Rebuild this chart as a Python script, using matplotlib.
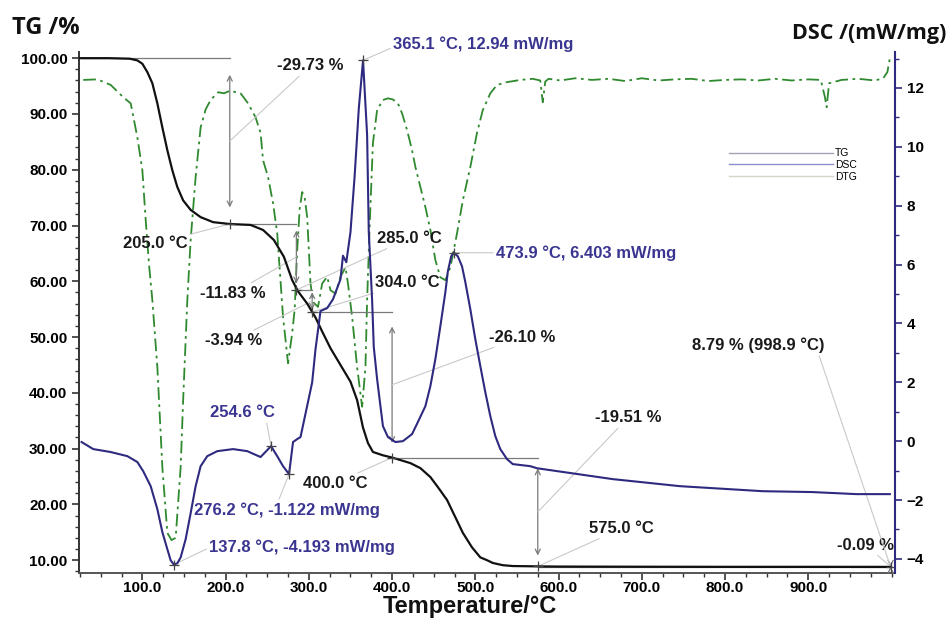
import matplotlib
matplotlib.use("Agg")
import matplotlib.pyplot as plt
import numpy as np
from matplotlib.lines import Line2D
from matplotlib.ticker import FormatStrFormatter, MultipleLocator

plt.rcParams["font.family"] = ["Liberation Sans", "DejaVu Sans"]

# TG curve (mass %, left axis)
tg_temp = [25, 60, 85, 94, 100, 106, 112, 118, 124, 130,
           136, 142, 149, 158, 170, 185, 205, 230, 245, 258,
           270, 280, 287, 298, 304, 308, 316, 326, 338, 350,
           358, 365, 371, 377, 389, 400, 422, 434, 446, 455,
           466, 476, 485, 496, 506, 514, 521, 533, 545, 575,
           600, 700, 800, 900, 998.9]
tg_mass = [100, 100, 99.9, 99.6, 99.0, 97.5, 95.5, 91.9, 87.6, 83.5,
           79.9, 76.9, 74.5, 72.8, 71.5, 70.6, 70.27, 70.1, 69.2, 67.4,
           64.4, 60.2, 58.2, 56.0, 54.5, 53.5, 51.0, 48.0, 45.0, 42.0,
           38.7, 33.8, 31.0, 29.4, 28.8, 28.4, 27.4, 26.5, 24.9, 23.1,
           20.8, 17.7, 14.9, 12.3, 10.5, 10.0, 9.5, 9.1, 8.95, 8.89,
           8.85, 8.82, 8.8, 8.8, 8.79]

# DSC curve (mW/mg, right axis)
dsc_temp = [27, 41, 62, 82, 94, 101, 110, 118, 124, 130,
            134, 137.8, 142, 146, 152, 158, 164, 170, 178, 190,
            209, 226, 242, 254.6, 262, 269, 276.2, 281, 286, 290,
            298, 304, 308, 314, 322, 329, 338, 341, 345, 350,
            355, 360, 365.1, 370, 372, 376, 378, 382, 386, 389,
            395, 404, 413, 424, 431, 440, 446, 452, 458, 464,
            467, 471, 473.9, 479, 484, 488, 494, 500, 506, 512,
            518, 524, 530, 538, 545, 566, 574, 665, 746, 845,
            905, 958, 998]
dsc_val = [-0.03, -0.27, -0.37, -0.51, -0.71, -1.02, -1.53, -2.31, -3.09, -3.67,
           -4.05, -4.193, -4.15, -3.95, -3.33, -2.45, -1.53, -0.85, -0.51, -0.34,
           -0.27, -0.34, -0.54, -0.17, -0.51, -0.85, -1.122, -0.03, 0.07, 0.14,
           1.2, 2.0, 3.12, 4.42, 4.52, 4.82, 5.5, 6.3, 6.08, 7.1,
           9.0, 11.3, 12.94, 10.4, 7.1, 4.8, 3.2, 2.11, 1.19, 0.51,
           0.14, -0.03, 0.0, 0.24, 0.65, 1.19, 1.87, 2.79, 3.91, 5.06,
           5.77, 6.28, 6.403, 6.28, 5.94, 5.40, 4.48, 3.46, 2.55, 1.66,
           0.85, 0.17, -0.27, -0.61, -0.78, -0.85, -0.92, -1.29, -1.53, -1.7,
           -1.73, -1.8, -1.8]

# DTG curve (drawn on the TG scale, as in the instrument plot)
dtg_temp = [29, 46, 62, 77, 86, 94, 100, 104, 108, 112, 118, 124, 130, 135,
            140, 146, 149, 154, 158, 164, 170, 176, 182, 191, 198, 206, 212,
            218, 227, 236, 242, 245, 251, 257, 262, 269, 272, 275, 280, 283,
            286, 289, 292, 295, 298, 302, 305, 311, 316, 322, 326, 332, 338,
            344, 347, 352, 358, 364, 368, 370, 373, 377, 382, 389, 395, 401,
            407, 412, 418, 424, 428, 434, 440, 446, 452, 458, 464, 470, 478,
            485, 494, 502, 509, 518, 526, 538, 554, 569,
            578, 581, 584, 588, 602, 620, 640, 660, 680, 700,
            720, 740, 760, 780, 800, 820, 840, 860, 880, 900,
            915, 920, 922, 925, 940, 960, 980, 990, 995, 998]
dtg_val = [96.1, 96.2, 95.2, 93.0, 91.9, 85.8, 79.9, 71.0, 63.0, 56.6, 44.6,
           26.7, 14.9, 13.6, 14.0, 26.7, 38.7, 56.6, 67.4, 78.7, 87.6, 90.8,
           92.5, 93.9, 93.7, 94.2, 93.9, 93.7, 91.9, 89.4, 86.6, 81.7, 78.7,
           74.0, 68.6, 53.6, 49.5, 45.3, 50.7, 55.0, 65.6, 73.0, 76.0, 75.0,
           71.5, 59.6, 56.3, 55.4, 59.6, 60.8, 58.4, 57.8, 60.8, 62.5, 59.6,
           53.6, 44.6, 37.5, 44.6, 56.6, 69.7, 84.8, 90.7, 92.5, 92.8, 92.6,
           91.9, 90.1, 87.1, 83.5, 80.5, 76.9, 73.3, 69.2, 63.8, 60.7, 60.2,
           62.5, 68.6, 74.5, 80.5, 86.6, 90.7, 93.7, 95.2, 95.7, 96.1, 96.3,
           96.0, 92.1, 95.8, 96.3, 96.0, 96.4, 96.1, 96.3, 95.9, 96.4,
           96.0, 96.2, 96.3, 95.9, 96.1, 96.2, 96.0, 96.3, 96.0, 96.2,
           96.1, 93.0, 91.2, 95.5, 96.1, 96.3, 96.0, 96.4, 97.5, 100.0]

# TG steps: end temperature of each step and mass change
step_temp = [205.0, 285.0, 304.0, 400.0, 575.0, 998.9]
step_loss = [-29.73, -11.83, -3.94, -26.10, -19.51, -0.09]
residue = 8.79

# text labels for the TG steps (label position in data units)
step_loss_xy = [(301.6, 98.6), (209.2, 57.9), (209.2, 49.4), (556.0, 50.0),
                (683.2, 35.5), (968.8, 12.7)]
step_temp_xy = [(115.6, 66.8), (420.4, 67.7), (418.0, 59.7), (331.6, 23.8),
                (676.0, 15.7)]
residue_xy = (840.4, 48.5)

# DSC peak labels
dsc_peak_temp = [137.8, 254.6, 276.2, 365.1, 473.9]
dsc_peak_val = [-4.193, -0.17, -1.122, 12.94, 6.403]
dsc_peak_show_val = [True, False, True, True, True]
dsc_label_xy = [(180.4, -3.62), (220.0, 0.96), (162.4, -2.33), (401.2, 13.49),
                (524.8, 6.40)]
dsc_leader_from = [(0.0, 0.5), (0.87, 0.0), (0.45, 1.0), (0.0, 0.3), (0.0, 0.5)]

TG_COLOR = "#111111"
DSC_COLOR = "#2e2a80"
DTG_COLOR = "#2f8a2f"
NAVY_TEXT = "#3a3590"
GUIDE = "#7a7a7a"
LEADER = "#c9c9c9"

fig = plt.figure(figsize=(9.53, 6.18), dpi=100)
ax = fig.add_axes([0.083, 0.0728, 0.856, 0.843])
ax2 = ax.twinx()

ax.plot(dtg_temp, dtg_val, color=DTG_COLOR, lw=1.3,
        dashes=(7, 2.5, 1.5, 2.5), zorder=2)
ax.plot(tg_temp, tg_mass, color=TG_COLOR, lw=1.6, zorder=4)
ax2.plot(dsc_temp, dsc_val, color=DSC_COLOR, lw=1.5, zorder=4)

ax.set_xlim(24, 1004)
ax.set_ylim(7.7, 101.1)
ax2.set_ylim(-4.48, 13.22)

# step guides, arrows and labels on TG
levels = [100.0]
for loss in step_loss:
    levels.append(round(levels[-1] + loss, 2))
prev_t = tg_temp[0] + 3
text_kw = dict(fontsize=12, fontweight="bold", color="#1a1a1a")
for i, (t, loss) in enumerate(zip(step_temp, step_loss)):
    hi, lo = levels[i], levels[i + 1]
    ax.plot([prev_t, t], [hi, hi], color=GUIDE, lw=0.9, zorder=3)
    if i == len(step_temp) - 1:
        ax.plot([step_temp[i - 1], t], [lo, lo], color=GUIDE, lw=0.9, zorder=3)
    inset = 0.1 * (hi - lo)
    ax.annotate("", xy=(t, lo + inset), xytext=(t, hi - inset),
                arrowprops=dict(arrowstyle="<->", color=GUIDE, lw=0.9,
                                shrinkA=0, shrinkB=0, mutation_scale=9))
    ax.plot([t], [lo], marker="+", color="#444444", ms=7, mew=0.9, zorder=5)
    ax.annotate(f"{loss:.2f} %", xy=(t, (hi + lo) / 2), xytext=step_loss_xy[i],
                ha="center", va="center", **text_kw,
                arrowprops=dict(arrowstyle="-", color=LEADER, lw=0.8,
                                shrinkA=0, shrinkB=0))
    if i < len(step_temp_xy):
        ax.annotate(f"{t:.1f} °C", xy=(t, lo), xytext=step_temp_xy[i],
                    ha="center", va="center", **text_kw,
                    arrowprops=dict(arrowstyle="-", color=LEADER, lw=0.8,
                                    shrinkA=0, shrinkB=0))
    prev_t = t
ax.annotate(f"{residue:.2f} % ({step_temp[-1]:.1f} °C)",
            xy=(step_temp[-1], residue), xytext=residue_xy, ha="center",
            va="center", **text_kw,
            arrowprops=dict(arrowstyle="-", color=LEADER, lw=0.8,
                            shrinkA=0, shrinkB=0, relpos=(0.95, 0.0)))

# DSC peak labels
for t, v, show, pos, rel in zip(dsc_peak_temp, dsc_peak_val,
                                dsc_peak_show_val, dsc_label_xy,
                                dsc_leader_from):
    ax2.plot([t], [v], marker="+", color="#444444", ms=7, mew=0.9, zorder=5)
    if not show:
        label = f"{t:.1f} °C"
    elif abs(v) >= 10:
        label = f"{t:.1f} °C, {v:.2f} mW/mg"
    else:
        label = f"{t:.1f} °C, {v:.3f} mW/mg"
    ha = "left" if show else "center"
    ax2.annotate(label, xy=(t, v), xytext=pos, ha=ha, va="center",
                 fontsize=12, fontweight="bold", color=NAVY_TEXT,
                 annotation_clip=False,
                 arrowprops=dict(arrowstyle="-", color=LEADER, lw=0.8,
                                 shrinkA=0, shrinkB=0, relpos=rel))

# axes styling
for side in ("top", "right"):
    ax.spines[side].set_visible(False)
ax.spines["left"].set_color("#333333")
ax.spines["left"].set_linewidth(1.4)
ax.spines["bottom"].set_color("#555555")
ax.spines["bottom"].set_linewidth(1.4)
for side in ("top", "left", "bottom"):
    ax2.spines[side].set_visible(False)
ax2.spines["right"].set_color(DSC_COLOR)
ax2.spines["right"].set_linewidth(1.5)

ax.set_xticks(np.arange(100, 1000, 100))
ax.xaxis.set_major_formatter(FormatStrFormatter("%.1f"))
ax.xaxis.set_minor_locator(MultipleLocator(25))
ax.set_yticks(np.arange(10, 101, 10))
ax.yaxis.set_major_formatter(FormatStrFormatter("%.2f"))
ax.yaxis.set_minor_locator(MultipleLocator(2))
ax2.set_yticks(np.arange(-4, 13, 2))
ax2.yaxis.set_minor_locator(MultipleLocator(1))

ax.tick_params(axis="both", which="major", labelsize=11, length=5, width=1.2,
               color="#333333", direction="out")
ax.tick_params(axis="x", which="major", pad=1)
ax.tick_params(axis="both", which="minor", length=3, width=1.0,
               color="#333333", direction="out")
ax2.tick_params(axis="y", which="major", labelsize=11, length=5, width=1.2,
                color=DSC_COLOR, direction="out")
ax2.tick_params(axis="y", which="minor", length=3, width=1.0, color=DSC_COLOR,
                direction="out")
for lbl in ax.get_xticklabels() + ax.get_yticklabels() + ax2.get_yticklabels():
    lbl.set_fontweight("bold")

# legend
handles = [Line2D([], [], color="#a89fb5", lw=1.0),
           Line2D([], [], color="#8f8fd0", lw=1.0),
           Line2D([], [], color="#d2d7ca", lw=1.0)]
ax.legend(handles, ["TG", "DSC", "DTG"], loc="upper left",
          bbox_to_anchor=(0.79, 0.825), frameon=False, fontsize=7.5,
          handlelength=10, handletextpad=0.2, labelspacing=0.15,
          borderpad=0.0)

title_font = ["Open Sans", "DejaVu Sans"]
fig.text(12 / 953, 1 - 28 / 618, "TG /%", fontsize=17, fontweight="bold",
         family=title_font, ha="left", va="center", color="#111111")
fig.text(946 / 953, 1 - 33 / 618, "DSC /(mW/mg)", fontsize=15.5,
         fontweight="bold", family=title_font, ha="right", va="center",
         color="#111111")
fig.text(470 / 953, 1 - 607 / 618, "Temperature/°C", fontsize=17,
         fontweight="bold", ha="center", va="center", color="#111111")

fig.savefig("out.png", dpi=100, facecolor="white")
